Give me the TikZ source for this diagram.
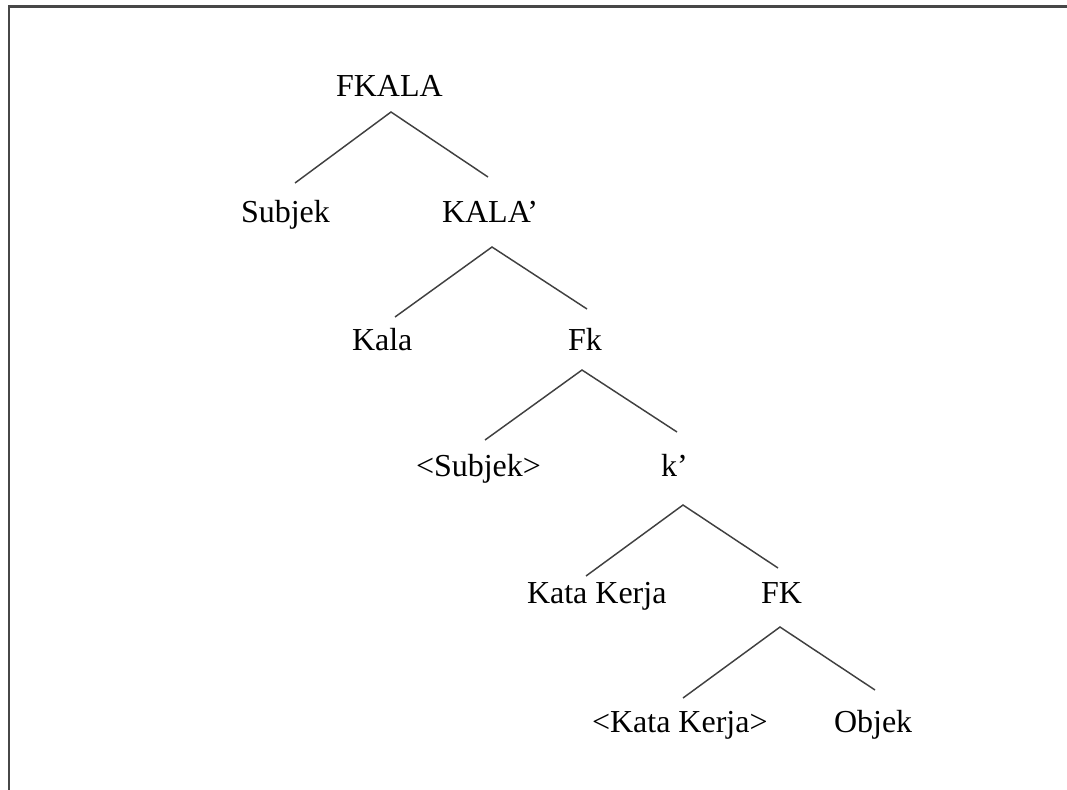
\documentclass[tikz,border=0pt]{standalone}
\usepackage{fontspec}
\setmainfont{Liberation Serif}
\begin{document}
\begin{tikzpicture}[x=0.75pt,y=-0.75pt,
  lbl/.style={anchor=base west,inner sep=0pt,outer sep=0pt,text=black,
    font=\fontsize{24}{28}\selectfont},
  branch/.style={draw=black!75,line width=1.1pt},
  frame/.style={draw=black!72,line width=2.2pt,line join=miter}]
\useasboundingbox (0,0) rectangle (1067,789);

% open frame: top and left edges only
\coordinate (fr-bl) at (9,792);
\coordinate (fr-tl) at (9,6.5);
\coordinate (fr-tr) at (1070,6.5);
\draw[frame] (fr-bl) -- (fr-tl) -- (fr-tr);

% labels
\node[lbl] (fkala)  at (336,96)  {FKALA};
\node[lbl] (subjek) at (241,222) {Subjek};
\node[lbl] (kalap)  at (442,222) {KALA’};
\node[lbl] (kala)   at (352,350) {Kala};
\node[lbl] (fk)     at (568,350) {Fk};
\node[lbl] (subj2)  at (416,476) {<Subjek>};
\node[lbl] (kp)     at (661,476) {k’};
\node[lbl] (kk)     at (527,603) {Kata Kerja};
\node[lbl] (FK)     at (761,603) {FK};
\node[lbl] (kk2)    at (592,732) {<Kata Kerja>};
\node[lbl] (objek)  at (834,732) {Objek};

% branch points below parents and above children
\coordinate (fkala-b)  at (391,112);
\coordinate (subjek-t) at (295,183);
\coordinate (kalap-t)  at (488,177);
\coordinate (kalap-b)  at (492,247);
\coordinate (kala-t)   at (395,317);
\coordinate (fk-t)     at (587,309);
\coordinate (fk-b)     at (582,370);
\coordinate (subj2-t)  at (485,440);
\coordinate (kp-t)     at (677,432);
\coordinate (kp-b)     at (683,505);
\coordinate (kk-t)     at (586,576);
\coordinate (FK-t)     at (778,568);
\coordinate (FK-b)     at (780,627);
\coordinate (kk2-t)    at (683,698);
\coordinate (objek-t)  at (875,690);

% branches
\draw[branch] (subjek-t) -- (fkala-b) -- (kalap-t);
\draw[branch] (kala-t) -- (kalap-b) -- (fk-t);
\draw[branch] (subj2-t) -- (fk-b) -- (kp-t);
\draw[branch] (kk-t) -- (kp-b) -- (FK-t);
\draw[branch] (kk2-t) -- (FK-b) -- (objek-t);
\end{tikzpicture}
\end{document}
